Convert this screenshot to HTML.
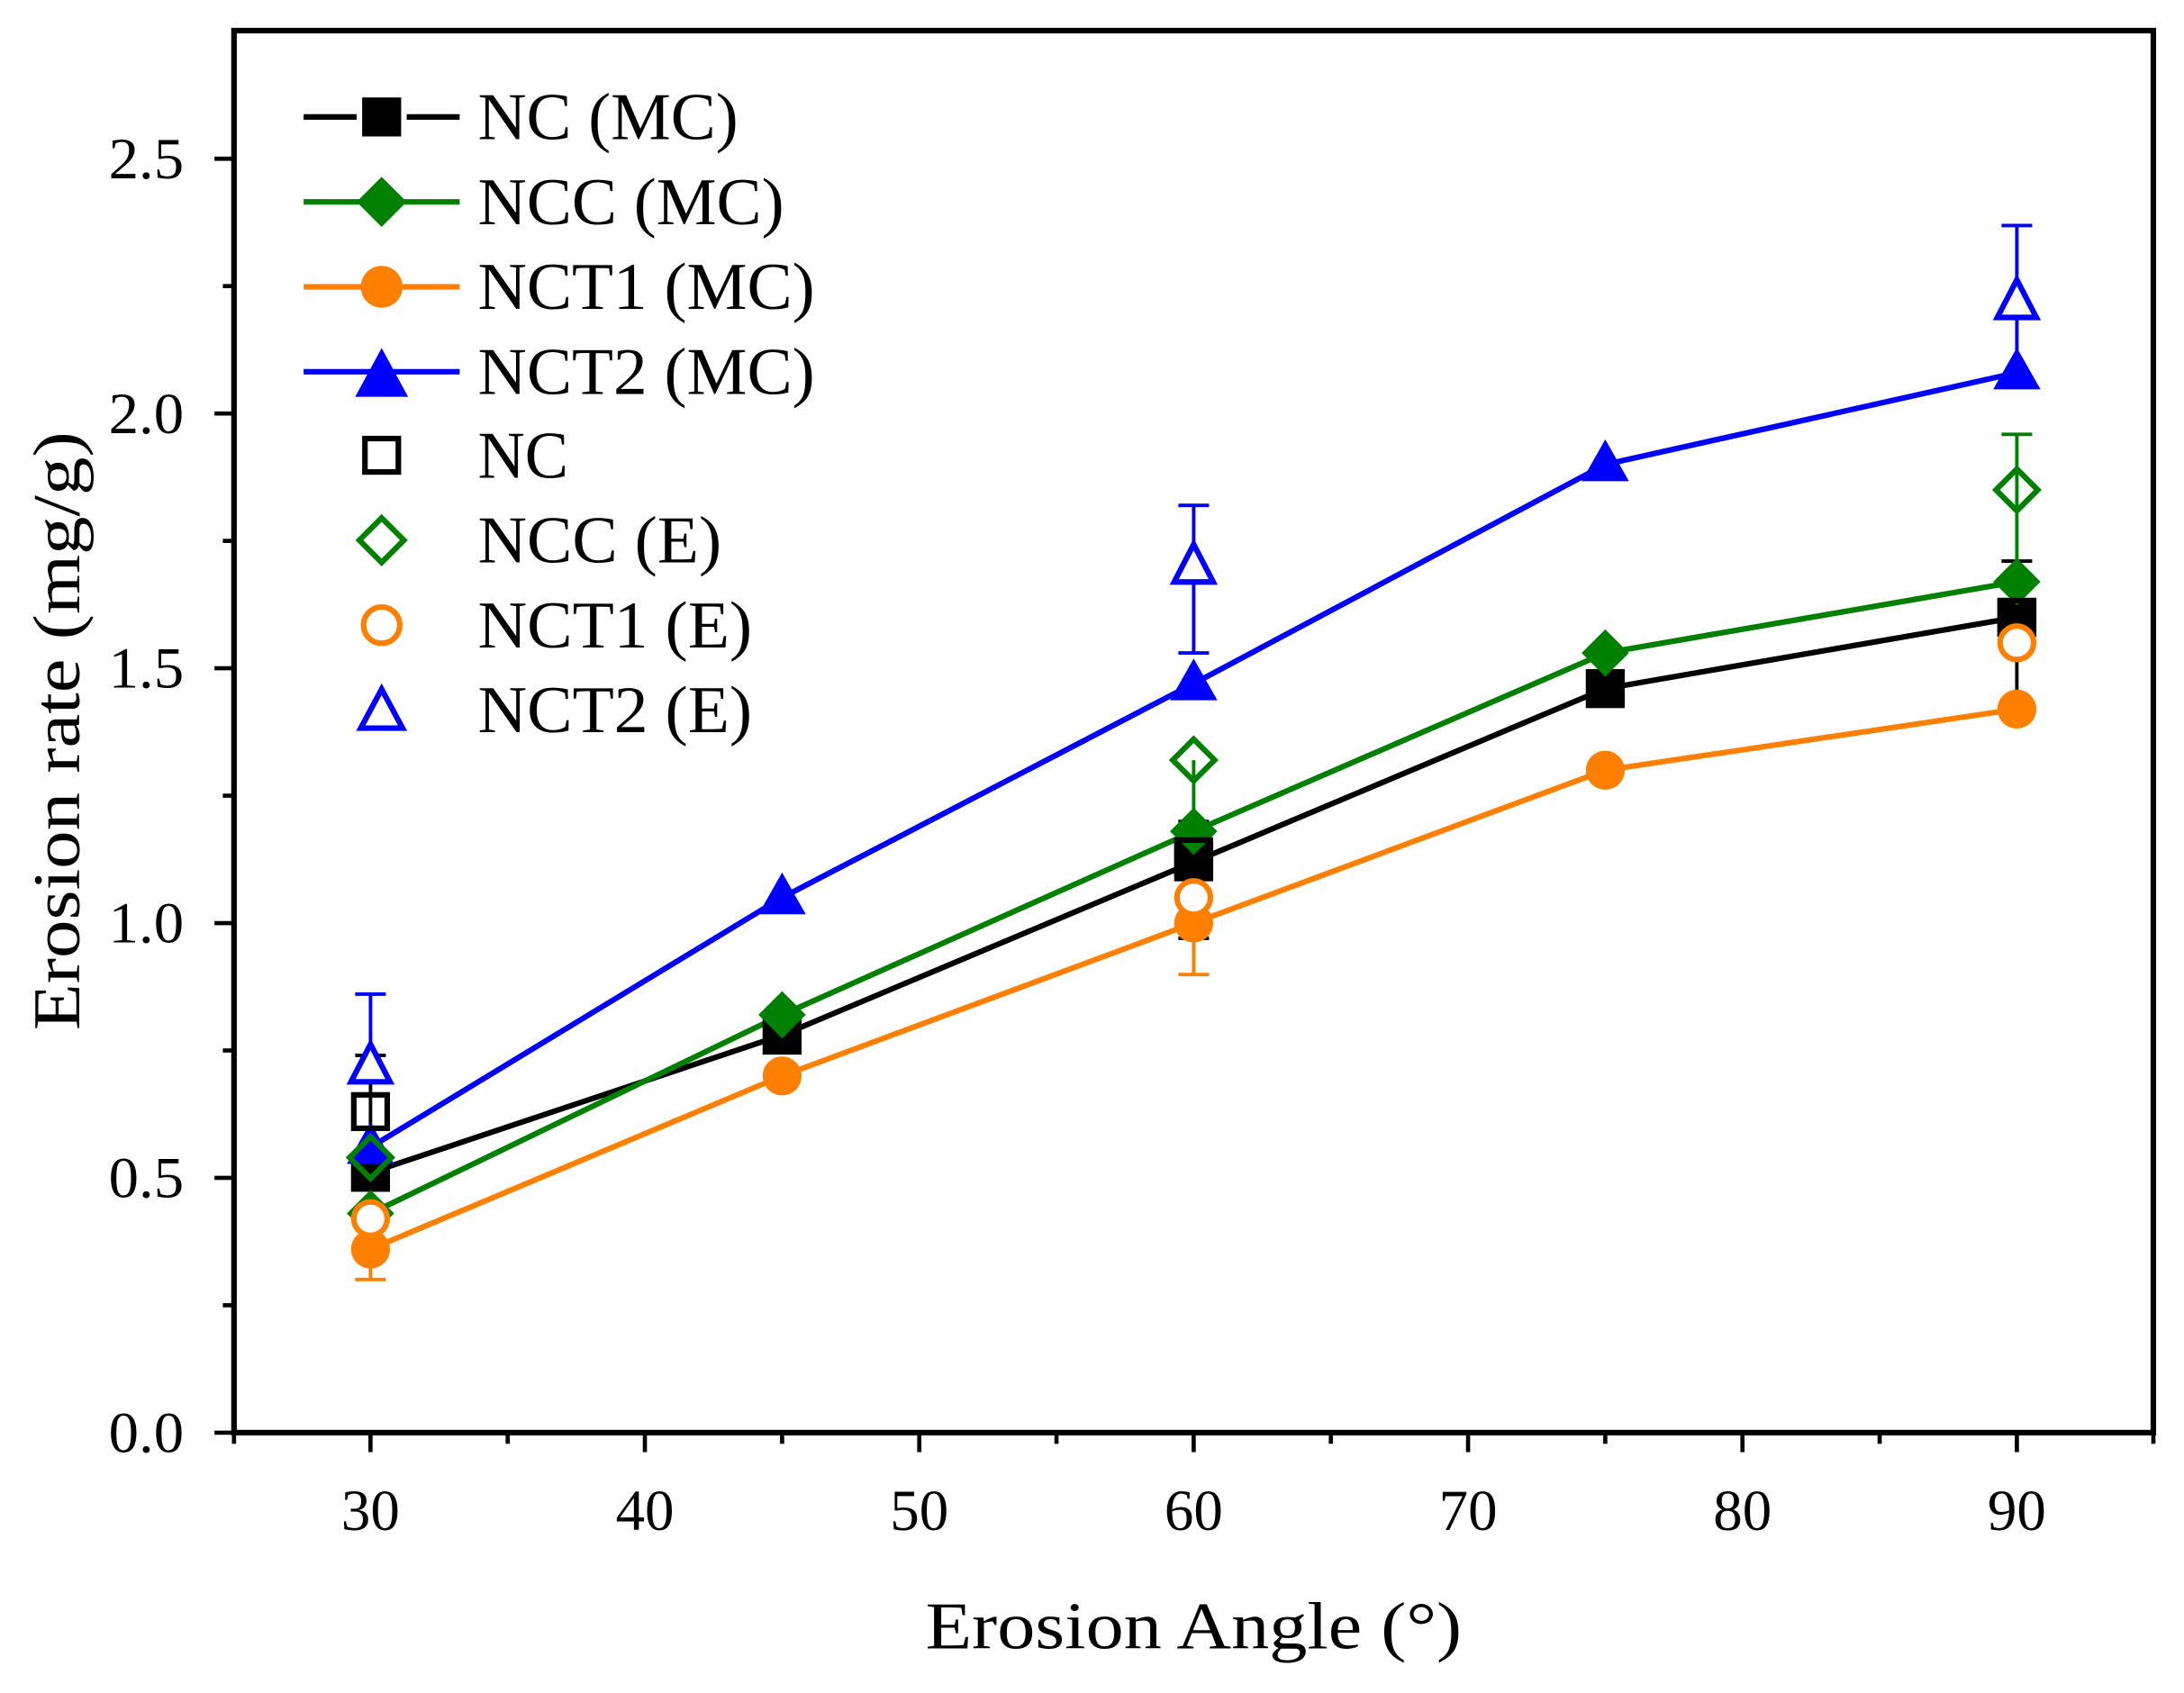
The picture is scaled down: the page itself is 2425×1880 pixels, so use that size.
<!DOCTYPE html>
<html><head><meta charset="utf-8"><style>html,body{margin:0;padding:0;background:#fff}svg{display:block}text{font-family:"Liberation Serif","Times New Roman",serif}</style></head>
<body>
<svg width="2425" height="1880" viewBox="0 0 1568 1216" preserveAspectRatio="none" xmlns="http://www.w3.org/2000/svg">
<rect width="1568" height="1216" fill="#fff"/>
<rect x="168" y="22" width="1378" height="1007" fill="none" stroke="#000" stroke-width="4"/>
<g stroke="#000" stroke-width="3">
<line x1="154" y1="1029" x2="168" y2="1029"/><line x1="154" y1="846" x2="168" y2="846"/><line x1="154" y1="663" x2="168" y2="663"/><line x1="154" y1="480" x2="168" y2="480"/><line x1="154" y1="297" x2="168" y2="297"/><line x1="154" y1="114" x2="168" y2="114"/>
<line x1="160" y1="937.5" x2="168" y2="937.5"/><line x1="160" y1="754.5" x2="168" y2="754.5"/><line x1="160" y1="571.5" x2="168" y2="571.5"/><line x1="160" y1="388.5" x2="168" y2="388.5"/><line x1="160" y1="205.5" x2="168" y2="205.5"/>
<line x1="266" y1="1029" x2="266" y2="1043"/><line x1="463" y1="1029" x2="463" y2="1043"/><line x1="660" y1="1029" x2="660" y2="1043"/><line x1="857" y1="1029" x2="857" y2="1043"/><line x1="1054" y1="1029" x2="1054" y2="1043"/><line x1="1251" y1="1029" x2="1251" y2="1043"/><line x1="1448" y1="1029" x2="1448" y2="1043"/>
<line x1="168" y1="1029" x2="168" y2="1037"/><line x1="364.5" y1="1029" x2="364.5" y2="1037"/><line x1="561.5" y1="1029" x2="561.5" y2="1037"/><line x1="758.5" y1="1029" x2="758.5" y2="1037"/><line x1="955.5" y1="1029" x2="955.5" y2="1037"/><line x1="1152.5" y1="1029" x2="1152.5" y2="1037"/><line x1="1349.5" y1="1029" x2="1349.5" y2="1037"/><line x1="1546" y1="1029" x2="1546" y2="1037"/>
</g>
<g font-size="42" text-anchor="end" fill="#000">
<text x="132" y="1043" textLength="54" lengthAdjust="spacingAndGlyphs">0.0</text><text x="132" y="860" textLength="54" lengthAdjust="spacingAndGlyphs">0.5</text><text x="132" y="677" textLength="54" lengthAdjust="spacingAndGlyphs">1.0</text><text x="132" y="494" textLength="54" lengthAdjust="spacingAndGlyphs">1.5</text><text x="132" y="311" textLength="54" lengthAdjust="spacingAndGlyphs">2.0</text><text x="132" y="128" textLength="54" lengthAdjust="spacingAndGlyphs">2.5</text>
</g>
<g font-size="42" text-anchor="middle" fill="#000">
<text x="266" y="1099" textLength="42" lengthAdjust="spacingAndGlyphs">30</text><text x="463" y="1099" textLength="42" lengthAdjust="spacingAndGlyphs">40</text><text x="660" y="1099" textLength="42" lengthAdjust="spacingAndGlyphs">50</text><text x="857" y="1099" textLength="42" lengthAdjust="spacingAndGlyphs">60</text><text x="1054" y="1099" textLength="42" lengthAdjust="spacingAndGlyphs">70</text><text x="1251" y="1099" textLength="42" lengthAdjust="spacingAndGlyphs">80</text><text x="1448" y="1099" textLength="42" lengthAdjust="spacingAndGlyphs">90</text>
</g>
<text x="857" y="1184" font-size="48" text-anchor="middle" textLength="385" lengthAdjust="spacingAndGlyphs">Erosion Angle (°)</text>
<text transform="translate(57,525) rotate(-90)" font-size="48" text-anchor="middle" textLength="430" lengthAdjust="spacingAndGlyphs">Erosion rate (mg/g)</text>

<g stroke-width="2.5" fill="none">
<g stroke="#000"><path d="M266 842V758M255 758H277M857 590V674M846 590H868M846 674H868M1448 403V509M1437 403H1459M1437 509H1459"/></g>
<g stroke="#0000ff"><path d="M266 765V714M255 714H277M857 363V469M846 363H868M846 469H868M1448 216V162M1437 162H1459M1448 216V268"/></g>
<g stroke="#ff8000"><path d="M266 897V919M255 919H277M857 663V700M846 700H868M857 663V628"/></g>
<g stroke="#008000"><path d="M1448 352V312M1437 312H1459M1448 352V418M857 546V597M266 831V872"/></g>
</g>

<g fill="none" stroke-width="4">
<polyline stroke="#000" points="266,842.3 561.5,743.5 857,619.1 1152.5,494.6 1448,443.4"/>
<polyline stroke="#008000" points="266,871.6 561.5,728.9 857,597.1 1152.5,469 1448,417.8"/>
<polyline stroke="#ff8000" points="266,897.2 561.5,772.8 857,663 1152.5,553.2 1448,509.3"/>
<polyline stroke="#0000ff" points="266,824 561.5,644.7 857,491 1152.5,333.6 1448,267.7"/>
</g>

<g fill="#000"><rect x="252" y="828" width="28" height="28"/><rect x="547.5" y="729.5" width="28" height="28"/><rect x="843" y="605" width="28" height="28"/><rect x="1138.5" y="480.6" width="28" height="28"/><rect x="1434" y="429.4" width="28" height="28"/></g>
<g fill="#008000">
<path d="M266 854.6L283 871.6L266 888.6L249 871.6Z"/><path d="M561.5 711.9L578.5 728.9L561.5 745.9L544.5 728.9Z"/><path d="M857 580.1L874 597.1L857 614.1L840 597.1Z"/><path d="M1152.5 452L1169.5 469L1152.5 486L1135.5 469Z"/><path d="M1448 400.8L1465 417.8L1448 434.8L1431 417.8Z"/>
</g>
<g fill="#ff8000"><circle cx="266" cy="897.2" r="14"/><circle cx="561.5" cy="772.8" r="14"/><circle cx="857" cy="663" r="14"/><circle cx="1152.5" cy="553.2" r="14"/><circle cx="1448" cy="509.3" r="14"/></g>
<g fill="#0000ff">
<path d="M266 806L283 836H249Z"/><path d="M561.5 626.7L578.5 656.7H544.5Z"/><path d="M857 473L874 503H840Z"/><path d="M1152.5 315.6L1169.5 345.6H1135.5Z"/><path d="M1448 249.7L1465 279.7H1431Z"/>
</g>

<g fill="none" stroke-width="4">
<g stroke="#000"><rect x="254" y="786.4" width="24" height="24"/><rect x="845" y="603.4" width="24" height="24"/><rect x="1436" y="431.4" width="24" height="24"/></g>
<g stroke="#008000"><path d="M266 816.4L281 831.4L266 846.4L251 831.4Z"/><path d="M857 530.9L872 545.9L857 560.9L842 545.9Z"/><path d="M1448 336.9L1463 351.9L1448 366.9L1433 351.9Z"/></g>
<g stroke="#ff8000" fill="#fff"><circle cx="266" cy="875.3" r="12"/><circle cx="857" cy="644.7" r="12"/><circle cx="1448" cy="461.7" r="12"/></g>
<g stroke="#0000ff" fill="#fff"><path d="M266 750L280 777H252Z"/><path d="M857 391L871 418H843Z"/><path d="M1448 201L1462 228H1434Z"/></g>
</g>

<g stroke-width="4" fill="none">
<line x1="218" y1="84" x2="330" y2="84" stroke="#000"/>
<line x1="218" y1="145" x2="330" y2="145" stroke="#008000"/>
<line x1="218" y1="206" x2="330" y2="206" stroke="#ff8000"/>
<line x1="218" y1="267" x2="330" y2="267" stroke="#0000ff"/>
</g>
<rect x="256" y="66" width="36" height="36" fill="#fff"/>
<rect x="260" y="70" width="28" height="28" fill="#000"/>
<path d="M274 127L292 145L274 163L256 145Z" fill="#008000"/>
<circle cx="274" cy="206" r="15" fill="#ff8000"/>
<path d="M274 250L293 285H255Z" fill="#0000ff"/>
<g fill="none" stroke-width="4">
<rect x="262" y="315" width="24" height="24" stroke="#000"/>
<path d="M274 372L290 388L274 404L258 388Z" stroke="#008000"/>
<circle cx="274" cy="449" r="13" stroke="#ff8000"/>
<path d="M274 495L289 523H259Z" stroke="#0000ff"/>
</g>
<g font-size="48" fill="#000">
<text x="343" y="100" textLength="187" lengthAdjust="spacingAndGlyphs">NC (MC)</text>
<text x="343" y="161" textLength="220" lengthAdjust="spacingAndGlyphs">NCC (MC)</text>
<text x="343" y="222" textLength="242" lengthAdjust="spacingAndGlyphs">NCT1 (MC)</text>
<text x="343" y="283" textLength="242" lengthAdjust="spacingAndGlyphs">NCT2 (MC)</text>
<text x="343" y="343" textLength="65" lengthAdjust="spacingAndGlyphs">NC</text>
<text x="343" y="404" textLength="175" lengthAdjust="spacingAndGlyphs">NCC (E)</text>
<text x="343" y="465" textLength="197" lengthAdjust="spacingAndGlyphs">NCT1 (E)</text>
<text x="343" y="526" textLength="197" lengthAdjust="spacingAndGlyphs">NCT2 (E)</text>
</g>
</svg>
</body></html>
